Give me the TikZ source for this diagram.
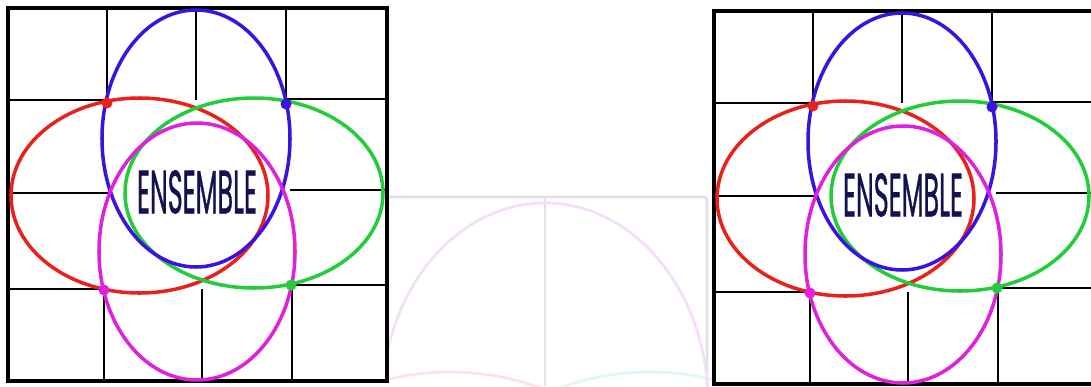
\documentclass[tikz,border=0pt]{standalone}
\usepackage{fontspec}
\newfontfamily\ensfont[FakeBold=1.2]{Poppins}
\definecolor{ensred}{HTML}{E8221A}
\definecolor{ensblue}{HTML}{3B12E0}
\definecolor{ensgreen}{HTML}{22CC3A}
\definecolor{ensmagenta}{HTML}{E020DC}
\definecolor{ensnavy}{HTML}{14124E}
\definecolor{paleline}{HTML}{E2E2E2}
\definecolor{palepink}{HTML}{F5DEFA}
\definecolor{palered}{HTML}{FDE4E2}
\definecolor{palegreen}{HTML}{E0F9EC}
\begin{document}
\begin{tikzpicture}[x=0.03cm,y=-0.03cm,
  grid line/.style={line width=2.3pt},
  frame line/.style={line width=3.4pt},
  ring/.style={line width=3pt},
  faded/.style={line width=2.4pt}]
\useasboundingbox (0,0) rectangle (1091,386);
\clip (0,0) rectangle (1091,386);

% faded copy in the middle
\begin{scope}
\clip (388,195) rectangle (712,386);
\draw[faded,paleline,rounded corners=3] (388,197) -- (707,197) -- (707,386);
\draw[faded,paleline] (545,197) -- (545,386);
\draw[faded,palered] (450,522) ellipse [x radius=200, y radius=150];
\draw[faded,palegreen] (650,522) ellipse [x radius=200, y radius=150];
\draw[faded,palepink] (545,403) ellipse [x radius=163, y radius=200];
\end{scope}

% the two grids with their ellipses
\foreach \dx/\dy in {0/0,706/3}{
\begin{scope}[shift={(\dx,\dy)}]
% outer cells only, the middle block stays empty
\draw[grid line] (107,8) -- (107,100);
\draw[grid line] (196,8) -- (196,100);
\draw[grid line] (286,8) -- (286,100);
\draw[grid line] (104,289) -- (104,381);
\draw[grid line] (202,289) -- (202,381);
\draw[grid line] (292,285) -- (292,381);
\draw[grid line] (8,100) -- (107,100);
\draw[grid line] (286,99) -- (387,99);
\draw[grid line] (8,193) -- (108,193);
\draw[grid line] (290,190) -- (387,190);
\draw[grid line] (8,289) -- (104,289);
\draw[grid line] (292,285) -- (387,285);
\draw[frame line] (8,8) rectangle (387,381);

\draw[ring,ensred] (139.5,195.5) ellipse [x radius=128.5, y radius=97.5];
\draw[ring,ensgreen] (254,193) ellipse [x radius=129, y radius=95];
\draw[ring,ensblue] (196,138.5) ellipse [x radius=94, y radius=128.5];
\draw[ring,ensmagenta] (197,251.5) ellipse [x radius=98, y radius=128.5];

\fill[ensred] (107,103) circle [radius=5.5];
\fill[ensblue] (286,104) circle [radius=5.5];
\fill[ensmagenta] (104,290) circle [radius=5.5];
\fill[ensgreen] (291,285) circle [radius=5.5];

\node[text=ensnavy,inner sep=0pt] (word\dx) at (197,192)
  {\resizebox{3.6cm}{1.29cm}{\ensfont ENSEMBLE}};
\end{scope}
}
\end{tikzpicture}
\end{document}
